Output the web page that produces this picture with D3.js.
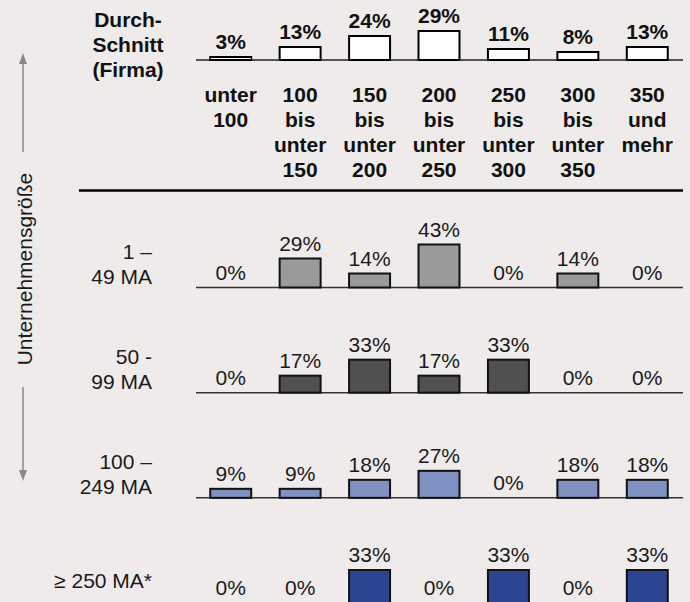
<!DOCTYPE html>
<html lang="de">
<head>
<meta charset="utf-8">
<title>Unternehmensgröße</title>
<script src="https://cdn.jsdelivr.net/npm/d3@7"></script>
<style>
  body { margin: 0; background: #eeebea; }
  svg { display: block; font-family: "Liberation Sans", Arial, sans-serif; }
</style>
</head>
<body>
<svg width="690" height="602"></svg>
<script>
// categories (columns)
var categories = ["unter 100", "100 bis unter 150", "150 bis unter 200", "200 bis unter 250",
                  "250 bis unter 300", "300 bis unter 350", "350 und mehr"];
var categoryLines = [["unter", "100"], ["100", "bis", "unter", "150"], ["150", "bis", "unter", "200"],
                     ["200", "bis", "unter", "250"], ["250", "bis", "unter", "300"],
                     ["300", "bis", "unter", "350"], ["350", "und", "mehr"]];

// Durchschnitt (Firma)
var average = [3, 13, 24, 29, 11, 8, 13];

// rows = company size
var rows = ["1-49", "50-99", "100-249", "250+"];
var rowLabels = [["1 –", "49 MA"], ["50 -", "99 MA"], ["100 –", "249 MA"], ["≥ 250 MA*"]];
var row1 = [0, 29, 14, 43, 0, 14, 0];
var row2 = [0, 17, 33, 17, 33, 0, 0];
var row3 = [9, 9, 18, 27, 0, 18, 18];
var row4 = [0, 0, 33, 0, 33, 0, 33];
var rowValues = [row1, row2, row3, row4];
var rowColors = ["#9a9a9a", "#505050", "#8090c0", "#2c4593"];

var svg = d3.select("svg");

var x = d3.scaleBand().domain(categories).range([196, 682])
  .paddingInner(0.41).paddingOuter(0.205);
var h = d3.scaleLinear().domain([0, 100]).range([0, 100]);
var rowY = d3.scalePoint().domain(rows).range([287.5, 603]);
var avgBase = 60;

// --- top: Durchschnitt
var head = svg.append("text").attr("text-anchor", "middle")
  .attr("font-weight", "bold").attr("font-size", 21).attr("fill", "#111");
["Durch-", "Schnitt", "(Firma)"].forEach(function(t, i) {
  head.append("tspan").attr("x", 128).attr("y", 27 + i * 25).text(t);
});

svg.append("line").attr("x1", 196).attr("x2", 683)
  .attr("y1", avgBase).attr("y2", avgBase)
  .attr("stroke", "#222").attr("stroke-width", 1.5);

svg.selectAll(".avgbar").data(average).enter().append("rect")
  .attr("x", function(d, i) { return x(categories[i]); })
  .attr("y", function(d) { return avgBase - h(d); })
  .attr("width", x.bandwidth())
  .attr("height", function(d) { return h(d); })
  .attr("fill", "#fff").attr("stroke", "#000").attr("stroke-width", 2);

svg.selectAll(".avglab").data(average).enter().append("text")
  .attr("x", function(d, i) { return x(categories[i]) + x.bandwidth() / 2; })
  .attr("y", function(d) { return avgBase - h(d) - 8.5; })
  .attr("text-anchor", "middle").attr("font-weight", "bold")
  .attr("font-size", 21).attr("fill", "#111")
  .text(function(d) { return d + "%"; });

// category labels
categoryLines.forEach(function(lines, i) {
  var t = svg.append("text").attr("text-anchor", "middle")
    .attr("font-weight", "bold").attr("font-size", 21).attr("fill", "#111");
  lines.forEach(function(l, j) {
    t.append("tspan").attr("x", x(categories[i]) + x.bandwidth() / 2)
      .attr("y", 101.5 + j * 25).text(l);
  });
});

// separator
svg.append("line").attr("x1", 79).attr("x2", 683)
  .attr("y1", 190.5).attr("y2", 190.5)
  .attr("stroke", "#000").attr("stroke-width", 2.5);

// --- rows
rows.forEach(function(r, ri) {
  var base = rowY(r);
  var g = svg.append("g");
  g.append("line").attr("x1", 196).attr("x2", 683)
    .attr("y1", base).attr("y2", base)
    .attr("stroke", "#333").attr("stroke-width", 1.5);

  g.selectAll("rect").data(rowValues[ri].map(function(v, i) { return {v: v, i: i}; })
      .filter(function(d) { return d.v > 0; }))
    .enter().append("rect")
    .attr("x", function(d) { return x(categories[d.i]); })
    .attr("y", function(d) { return base - h(d.v); })
    .attr("width", x.bandwidth())
    .attr("height", function(d) { return h(d.v); })
    .attr("fill", rowColors[ri]).attr("stroke", "#111").attr("stroke-width", 2);

  g.selectAll("text.val").data(rowValues[ri]).enter().append("text")
    .attr("x", function(d, i) { return x(categories[i]) + x.bandwidth() / 2; })
    .attr("y", function(d) { return base - h(d) - 8; })
    .attr("text-anchor", "middle").attr("font-size", 21).attr("fill", "#1a1a1a")
    .text(function(d) { return d + "%"; });

  var lab = g.append("text").attr("text-anchor", "end")
    .attr("font-size", 21).attr("fill", "#1a1a1a");
  var lines = rowLabels[ri];
  lines.forEach(function(l, j) {
    var yy = lines.length === 1 ? base - 15.5 : base - 28.5 + j * 25;
    lab.append("tspan").attr("x", 152).attr("y", yy).text(l);
  });
});

// --- left axis
svg.append("text")
  .attr("transform", "translate(31.5,269) rotate(-90)")
  .attr("text-anchor", "middle").attr("font-size", 21).attr("fill", "#1a1a1a")
  .text("Unternehmensgröße");

var arrowCol = "#8a8a8a";
svg.append("line").attr("x1", 23).attr("x2", 23).attr("y1", 62).attr("y2", 152)
  .attr("stroke", arrowCol).attr("stroke-width", 1.5);
svg.append("path").attr("d", "M23,53 L19,64 L27,64 Z").attr("fill", arrowCol);
svg.append("line").attr("x1", 23).attr("x2", 23).attr("y1", 387).attr("y2", 472)
  .attr("stroke", arrowCol).attr("stroke-width", 1.5);
svg.append("path").attr("d", "M23,481 L19,470 L27,470 Z").attr("fill", arrowCol);
</script>
</body>
</html>
